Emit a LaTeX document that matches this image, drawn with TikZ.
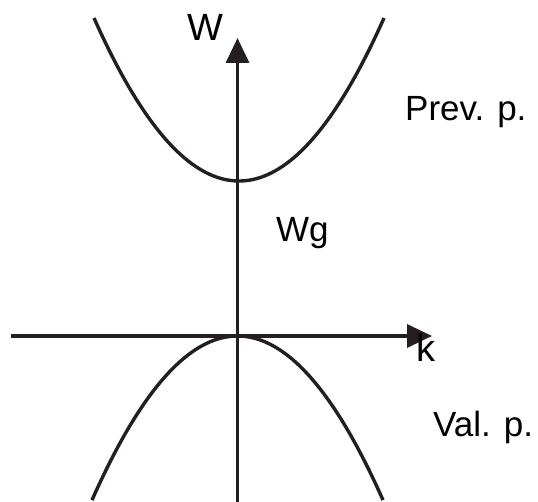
\documentclass[tikz,border=0pt]{standalone}
\usepackage{fontspec}
\setmainfont{Liberation Sans}
\usetikzlibrary{arrows.meta}
\definecolor{ink}{HTML}{231F20}
\begin{document}
\begin{tikzpicture}[x=1pt,y=-1pt,
  axis/.style={draw=ink,line width=3.4pt,-{Triangle[length=25pt,width=23pt]}},
  curve/.style={draw=ink,line width=3.4pt},
  lbl/.style={inner sep=0pt,anchor=base west,text=black,font=\fontsize{35}{35}\selectfont},
  biglbl/.style={inner sep=0pt,anchor=base west,text=black,font=\fontsize{38}{38}\selectfont}]
\useasboundingbox (0,0) rectangle (538,502);
\coordinate (ybot) at (237.5,502);
\coordinate (ytop) at (237.5,38);
\coordinate (xleft) at (11,336);
\coordinate (xright) at (432,336);
\draw[axis] (ybot) -- (ytop);
\draw[axis] (xleft) -- (xright);
\draw[curve] plot[domain=94:384,samples=80,smooth] ({\x},{181-0.00775*(\x-239)*(\x-239)});
\draw[curve] plot[domain=92:383,samples=80,smooth] ({\x},{336+0.00775*(\x-237.5)*(\x-237.5)});
\node[biglbl] (W) at (187,41) {W};
\node[biglbl] (k) at (416,362) {k};
\node[lbl] (wg) at (276,242) {Wg};
\node[lbl] (prev) at (405,121) {Prev. p.};
\node[lbl] (val) at (433,436) {Val. p.};
\end{tikzpicture}
\end{document}
